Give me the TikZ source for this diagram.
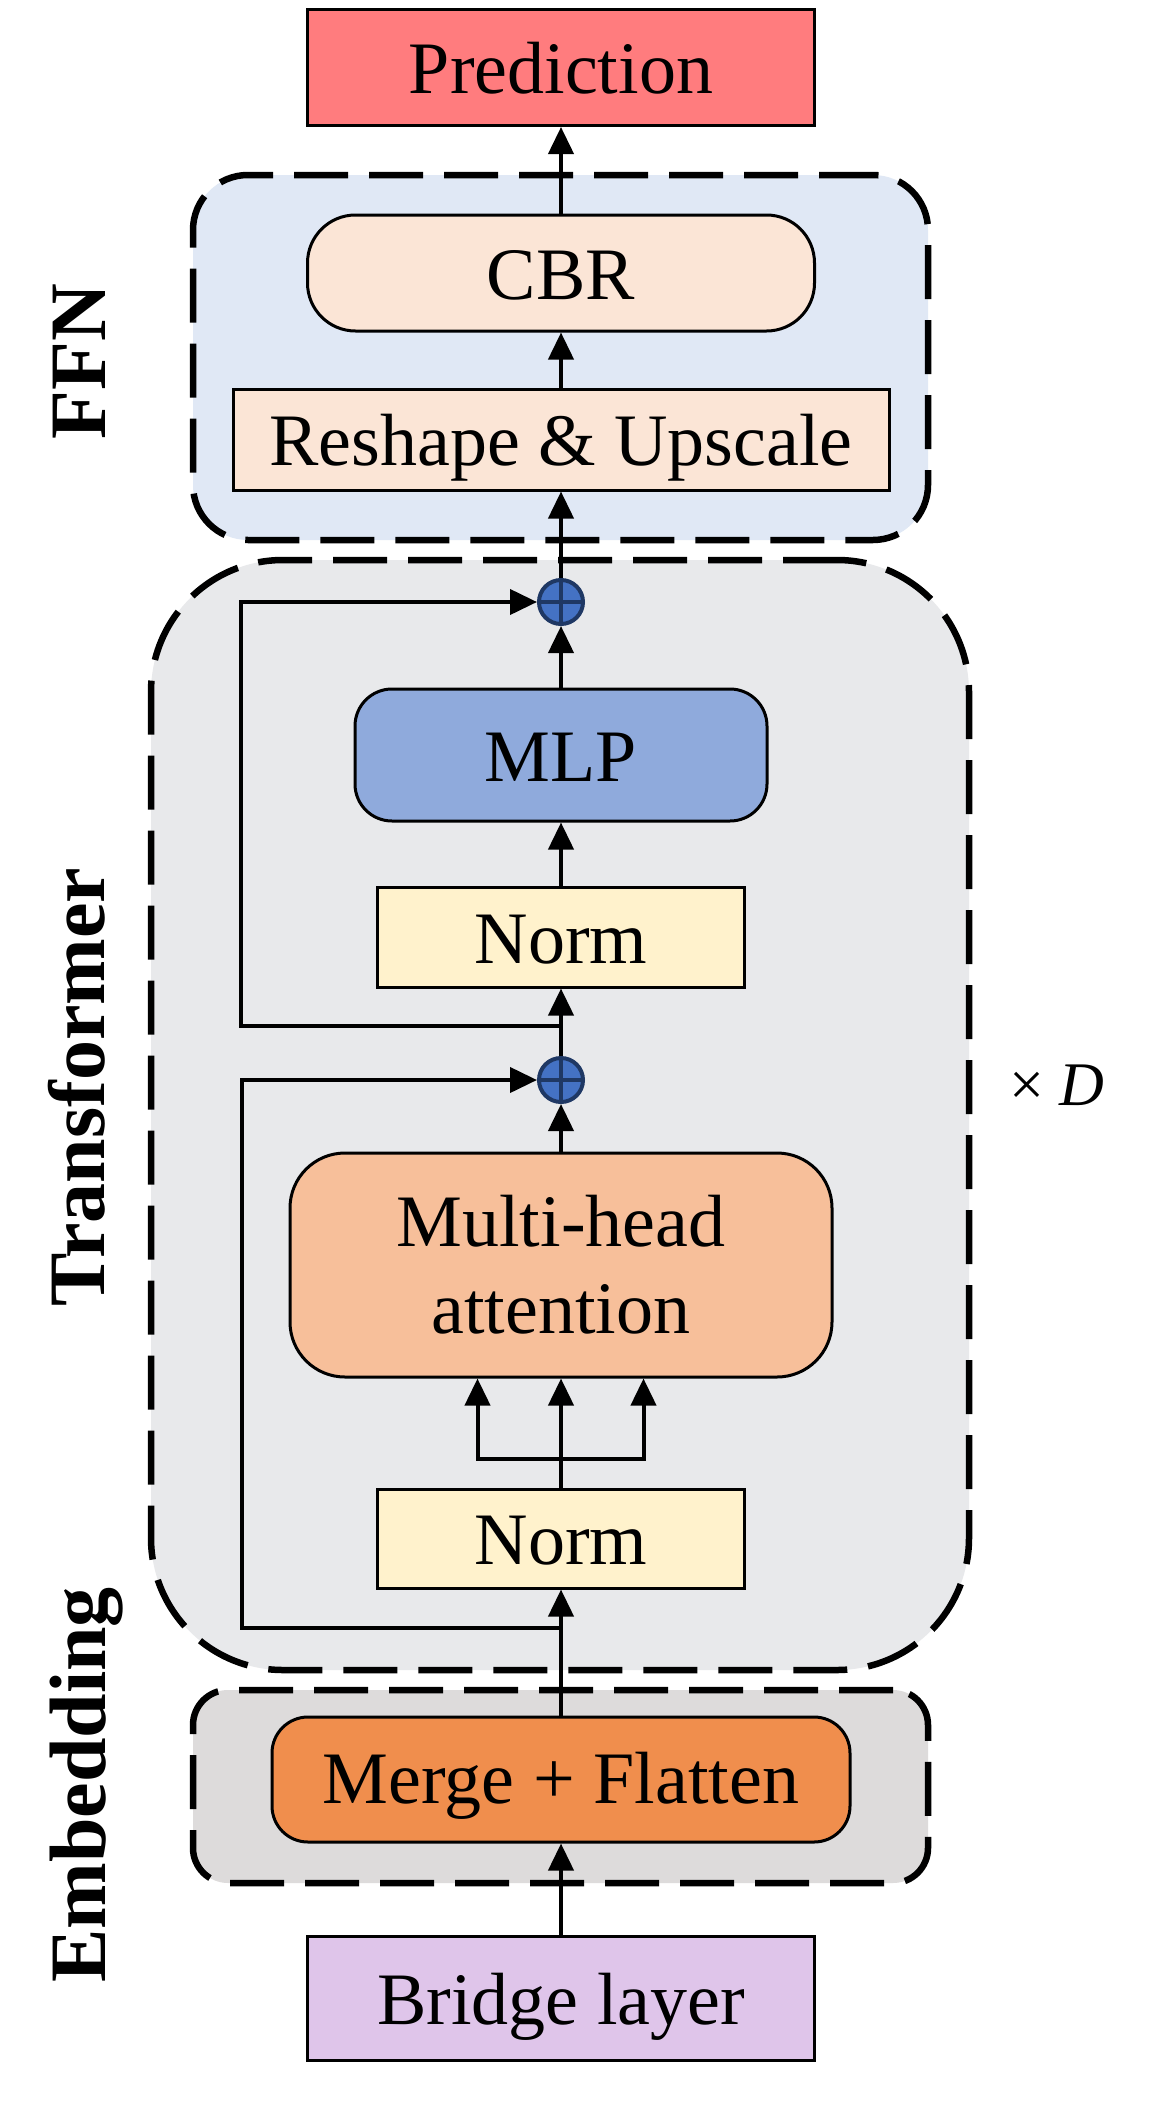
\documentclass[tikz,border=0pt]{standalone}
\usepackage{fontspec}
\setmainfont{Liberation Serif}
\usetikzlibrary{arrows.meta}
\definecolor{predc}{RGB}{255,124,126}
\definecolor{ffnbg}{RGB}{224,232,245}
\definecolor{peach}{RGB}{251,229,214}
\definecolor{trbg}{RGB}{232,233,235}
\definecolor{mlpc}{RGB}{143,170,220}
\definecolor{normc}{RGB}{255,242,204}
\definecolor{mhac}{RGB}{247,191,154}
\definecolor{embbg}{RGB}{221,219,219}
\definecolor{mergec}{RGB}{240,142,77}
\definecolor{bridgec}{RGB}{223,197,234}
\definecolor{addfill}{RGB}{68,114,196}
\definecolor{addline}{RGB}{31,56,100}
\begin{document}
\begin{tikzpicture}[x=1pt,y=-1pt,
  grp/.style={draw=black, line width=6.5pt, dash pattern=on 54pt off 21pt, inner sep=0pt},
  box/.style={draw=black, line width=3pt, inner sep=0pt, font=\fontsize{74}{87}\selectfont},
  txt/.style={text height=52pt, text depth=0pt},
  addc/.style={circle, draw=addline, fill=addfill, line width=4pt, minimum size=44pt, inner sep=0pt},
  arr/.style={draw=black, line width=4pt, line join=miter, -{Triangle[length=27pt,width=25pt]}},
  ln/.style={draw=black, line width=4pt},
  lab/.style={font=\fontsize{80}{96}\selectfont\bfseries, inner sep=0pt}
]
\useasboundingbox (0,0) rectangle (1157,2106);
\fill[white] (0,0) rectangle (1157,2106);

% group frames
\node[grp, fill=ffnbg, rounded corners=55pt, minimum width=735pt, minimum height=365pt] (ffn) at (560.5,357.5) {};
\node[grp, fill=trbg, rounded corners=132pt, minimum width=818pt, minimum height=1110pt] (tr) at (560,1115) {};
\node[grp, fill=embbg, rounded corners=35pt, minimum width=735pt, minimum height=193pt] (emb) at (560.5,1786.5) {};

% boxes
\node[box, txt, fill=predc, minimum width=507pt, minimum height=116pt] (pred) at (561,67.5) {Prediction};
\node[box, txt, fill=peach, rounded corners=48pt, minimum width=507pt, minimum height=116pt] (cbr) at (561,273) {CBR};
\node[box, txt, fill=peach, minimum width=656pt, minimum height=101pt] (resh) at (561,439.5) {Reshape \& Upscale};
\node[box, txt, fill=mlpc, rounded corners=37pt, minimum width=412pt, minimum height=132pt] (mlp) at (561,755) {MLP};
\node[box, txt, fill=normc, minimum width=367pt, minimum height=100pt] (norm2) at (561,937) {Norm};
\node[box, fill=mhac, rounded corners=55pt, minimum width=542pt, minimum height=224pt, align=center] (mha) at (561,1265) {Multi-head\\attention};
\node[box, txt, fill=normc, minimum width=367pt, minimum height=99pt] (norm1) at (561,1538.5) {Norm};
\node[box, fill=mergec, rounded corners=36pt, minimum width=578pt, minimum height=125pt, text height=48pt, text depth=0pt] (merge) at (561,1779.5) {Merge + Flatten};
\node[box, txt, fill=bridgec, minimum width=507pt, minimum height=124pt] (bridge) at (561,1998) {Bridge layer};

% adders
\node[addc] (add1) at (561,1080) {};
\node[addc] (add2) at (561,602) {};
\draw[addline, line width=3.5pt] (add1.north) -- (add1.south) (add1.west) -- (add1.east);
\draw[addline, line width=3.5pt] (add2.north) -- (add2.south) (add2.west) -- (add2.east);

% coordinates
\coordinate (split) at (561,1459);
\coordinate (sl) at (477.5,1459);
\coordinate (sr) at (643.5,1459);
\coordinate (s1) at (561,1628);
\coordinate (s1a) at (242,1628);
\coordinate (s1b) at (242,1080);
\coordinate (s2) at (561,1026);
\coordinate (s2a) at (241,1026);
\coordinate (s2b) at (241,602);

% connectors
\draw[arr] (bridge.north) -- (merge.south);
\draw[arr] (merge.north) -- (norm1.south);
\draw[ln] (norm1.north) -- (split);
\draw[ln, line cap=rect] (sl) -- (sr);
\draw[arr] (split) -- (mha.south);
\draw[arr] (sl) -- (sl |- mha.south);
\draw[arr] (sr) -- (sr |- mha.south);
\draw[arr] (s1) -- (s1a) -- (s1b) -- (add1.west);
\draw[arr] (mha.north) -- (add1.south);
\draw[arr] (add1.north) -- (norm2.south);
\draw[arr] (s2) -- (s2a) -- (s2b) -- (add2.west);
\draw[arr] (norm2.north) -- (mlp.south);
\draw[arr] (mlp.north) -- (add2.south);
\draw[arr] (add2.north) -- (resh.south);
\draw[arr] (resh.north) -- (cbr.south);
\draw[arr] (cbr.north) -- (pred.south);

% labels
\node[lab, rotate=90, anchor=base] (lffn) at (105,362) {FFN};
\node[lab, rotate=90, anchor=base] (ltr) at (104,1087) {Transformer};
\node[lab, rotate=90, anchor=base] (lemb) at (105,1785) {Embedding};
\node[font=\fontsize{62}{70}\selectfont, inner sep=0pt, anchor=base] (xd) at (1057,1105) {× \textit{D}};
\end{tikzpicture}
\end{document}
